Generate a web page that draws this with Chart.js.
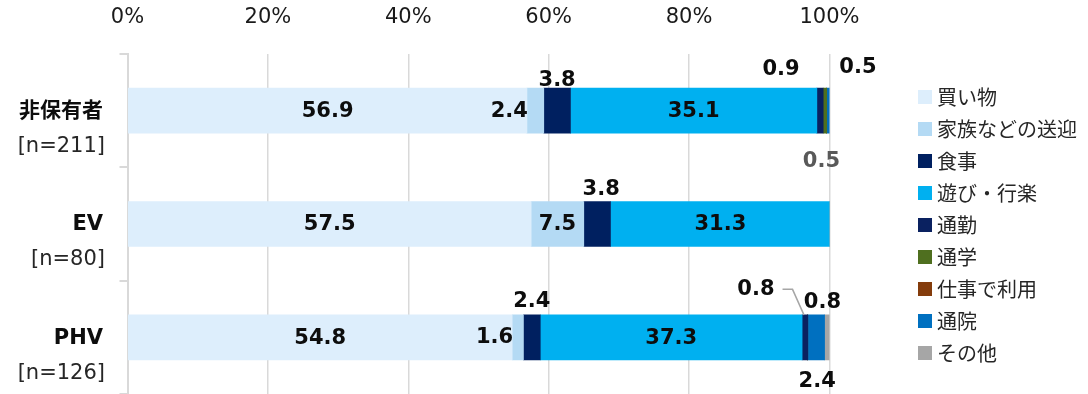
<!DOCTYPE html>
<html lang="ja">
<head>
<meta charset="utf-8">
<title>利用目的</title>
<script src="https://cdn.jsdelivr.net/npm/chart.js@4.4.1/dist/chart.umd.min.js"></script>
<style>
  html, body { margin: 0; padding: 0; background: #ffffff; }
  #wrap { width: 1088px; height: 394px; position: relative; }
</style>
</head>
<body>
<div id="wrap"><canvas id="chart" width="1088" height="394"></canvas></div>
<script>
// Groups and sample sizes
const groupNames = ['非保有者', 'EV', 'PHV'];
const sampleSizes = ['[n=211]', '[n=80]', '[n=126]'];

// Purposes (stack order) and their shares (%) per group
const purposes = ['買い物', '家族などの送迎', '食事', '遊び・行楽', '通勤', '通学', '仕事で利用', '通院', 'その他'];
const shopping  = [56.9, 57.5, 54.8];
const family    = [2.4, 7.5, 1.6];
const dining    = [3.8, 3.8, 2.4];
const leisure   = [35.1, 31.3, 37.3];
const commute   = [0.9, 0, 0.8];
const school    = [0.5, 0, 0];
const business  = [0, 0, 0];
const hospital  = [0.5, 0, 2.4];
const other     = [0, 0, 0.8];

// Axis ticks
const tickValues = [0, 20, 40, 60, 80, 100];

const seriesValues = [shopping, family, dining, leisure, commute, school, business, hospital, other];
const seriesColors = ['#ddeefc', '#b4daf4', '#002060', '#00b0f0', '#0a2160', '#4f6f1f', '#843c0c', '#0070c0', '#a6a6a6'];

// Where each value label sits relative to its segment (index: [group][series])
// pos: 'center' inside, 'left' just outside left edge, 'off' offset from segment centre
const labelPlacement = [
  { 1: { pos: 'left', dy: 1 }, 2: { pos: 'off', dx: 0, dy: -30 }, 4: { pos: 'off', dx: -39, dy: -41 },
    5: { pos: 'off', dx: 33, dy: -43 }, 7: { pos: 'off', dx: -7, dy: 51, color: '#595959' } },
  { 2: { pos: 'off', dx: 4, dy: -34 } },
  { 1: { pos: 'left', dy: 0 }, 2: { pos: 'off', dx: 0, dy: -36 }, 4: { pos: 'off', dx: -49, dy: -48, leader: true },
    7: { pos: 'off', dx: 1, dy: 44 }, 8: { pos: 'off', dx: -5, dy: -35 } }
];

const LABEL_FONT = 'bold 21px "DejaVu Sans", "Noto Sans CJK JP", sans-serif';

const datasets = purposes.map((name, i) => ({
  label: name,
  data: seriesValues[i],
  backgroundColor: seriesColors[i],
  borderWidth: 0,
  barThickness: 45
}));

// Value labels drawn on top of the stacked bars
const valueLabels = {
  id: 'valueLabels',
  afterDatasetsDraw(chart) {
    const ctx = chart.ctx;
    ctx.save();
    ctx.font = LABEL_FONT;
    ctx.textBaseline = 'middle';
    chart.data.datasets.forEach((ds, i) => {
      const meta = chart.getDatasetMeta(i);
      ds.data.forEach((v, j) => {
        if (!v) return;
        const el = meta.data[j];
        const left = Math.min(el.base, el.x), right = Math.max(el.base, el.x);
        const cx = (left + right) / 2;
        const p = (labelPlacement[j] && labelPlacement[j][i]) || { pos: 'center' };
        const text = v.toFixed(1);
        ctx.fillStyle = p.color || '#0d0d0d';
        if (p.pos === 'left') {
          ctx.textAlign = 'right';
          ctx.fillText(text, left + 1, el.y + (p.dy || 0));
        } else if (p.pos === 'off') {
          ctx.textAlign = 'center';
          const tx = cx + p.dx, ty = el.y + p.dy;
          ctx.fillText(text, tx, ty);
          if (p.leader) {
            const w = ctx.measureText(text).width;
            const top = el.y - el.height / 2;
            ctx.strokeStyle = '#a6a6a6';
            ctx.lineWidth = 1.5;
            ctx.beginPath();
            ctx.moveTo(tx + w / 2 + 8, ty);
            ctx.lineTo(tx + w / 2 + 18, ty);
            ctx.lineTo(cx - 1, top);
            ctx.stroke();
          }
        } else {
          ctx.textAlign = 'center';
          ctx.fillText(text, cx, el.y + 1);
        }
      });
    });
    ctx.restore();
  }
};

// Two-line group labels left of the axis
const groupLabels = {
  id: 'groupLabels',
  afterDraw(chart) {
    const ctx = chart.ctx;
    const y = chart.scales.y;
    ctx.save();
    ctx.textAlign = 'right';
    ctx.textBaseline = 'middle';
    ctx.fillStyle = '#0d0d0d';
    groupNames.forEach((name, i) => {
      const cy = y.getPixelForValue(i);
      ctx.font = 'bold 21px "DejaVu Sans", "Noto Sans CJK JP", sans-serif';
      ctx.fillText(name, 103, cy + 1);
      ctx.font = '21px "DejaVu Sans", "Noto Sans CJK JP", sans-serif';
      ctx.fillStyle = '#262626';
      ctx.fillText(sampleSizes[i], 105, cy + 36);
      ctx.fillStyle = '#0d0d0d';
    });
    ctx.restore();
  }
};

// Legend column on the right
const sideLegend = {
  id: 'sideLegend',
  afterDraw(chart) {
    const ctx = chart.ctx;
    ctx.save();
    ctx.font = '20px "Noto Sans CJK JP", sans-serif';
    ctx.textAlign = 'left';
    ctx.textBaseline = 'middle';
    purposes.forEach((name, i) => {
      const cy = 97 + i * 32;
      ctx.fillStyle = seriesColors[i];
      ctx.fillRect(918, cy - 7, 14, 14);
      ctx.fillStyle = '#262626';
      ctx.fillText(name, 937, cy);
    });
    ctx.restore();
  }
};

new Chart(document.getElementById('chart'), {
  type: 'bar',
  data: { labels: groupNames, datasets },
  plugins: [valueLabels, groupLabels, sideLegend],
  options: {
    indexAxis: 'y',
    responsive: false,
    animation: false,
    devicePixelRatio: 1,
    layout: { padding: { left: 0, right: 258.5, top: 0, bottom: 0 } },
    plugins: { legend: { display: false }, tooltip: { enabled: false } },
    scales: {
      x: {
        type: 'linear',
        position: 'top',
        stacked: true,
        min: 0,
        max: 100,
        afterBuildTicks(scale) { scale.ticks = tickValues.map(v => ({ value: v })); },
        afterFit(scale) { scale.height = 54; },
        ticks: {
          padding: 24,
          color: '#1a1a1a',
          font: { family: '"DejaVu Sans", sans-serif', size: 21 },
          callback: v => v + '%'
        },
        grid: { color: '#d9d9d9', lineWidth: 1.5, drawTicks: false },
        border: { display: false }
      },
      y: {
        stacked: true,
        afterFit(scale) { scale.width = 127.5; },
        ticks: { display: false },
        grid: { offset: true, drawOnChartArea: false, drawTicks: true, tickLength: 8, color: '#d9d9d9', lineWidth: 2 },
        border: { display: true, color: '#d9d9d9', width: 2 }
      }
    }
  }
});
</script>
</body>
</html>
